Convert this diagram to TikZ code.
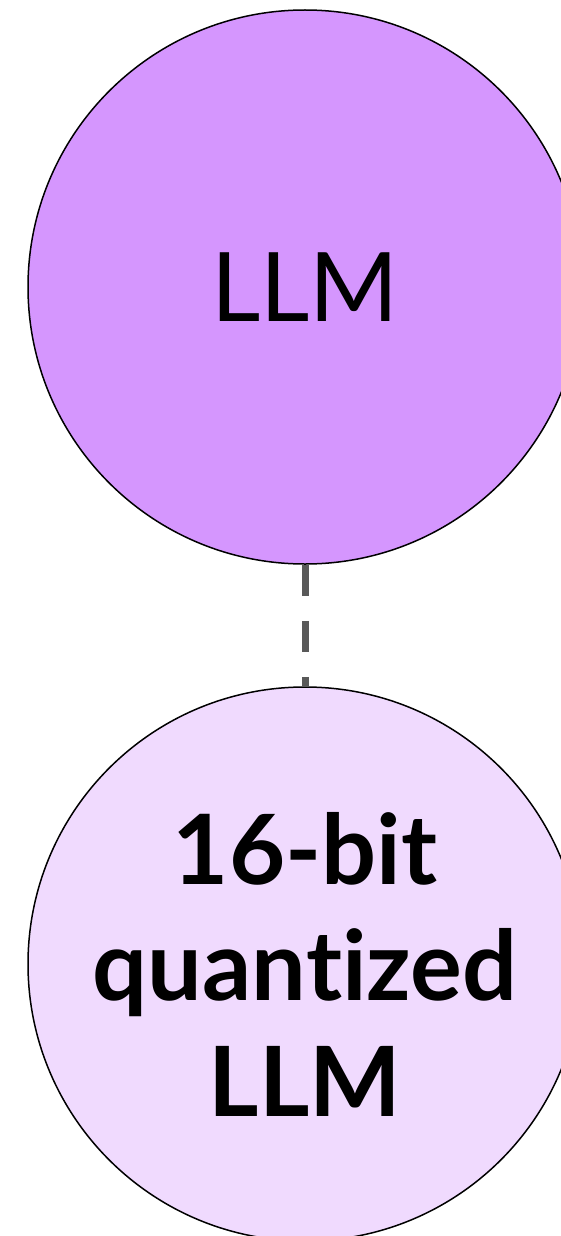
\documentclass[tikz,border=0pt]{standalone}
\usepackage{fontspec}
\setmainfont{Lato}[Ligatures=NoCommon]
\definecolor{topfill}{HTML}{D596FE}
\definecolor{botfill}{HTML}{F0DAFE}
\definecolor{dashgray}{HTML}{595959}
\begin{document}
\begin{tikzpicture}[x=1pt,y=1pt,
  bubble/.style={circle, draw=black, line width=1.5pt, minimum size=554pt, inner sep=0pt, align=center},
  link/.style={draw=dashgray, line width=7pt, dash pattern=on 31pt off 25pt}]
\useasboundingbox (0,0) rectangle (561,-1236);
\begin{scope}
\clip (0,0) rectangle (561,-1236);
\node[bubble, fill=topfill, font=\fontsize{96}{112}\selectfont] (llm) at (305,-287) {LLM};
\node[bubble, fill=botfill, font=\fontsize{97}{116}\selectfont\bfseries] (q) at (305,-964) {16-bit\\quantized\\LLM};
\draw[link] (llm.south) -- (q.north);
\end{scope}
\end{tikzpicture}
\end{document}
